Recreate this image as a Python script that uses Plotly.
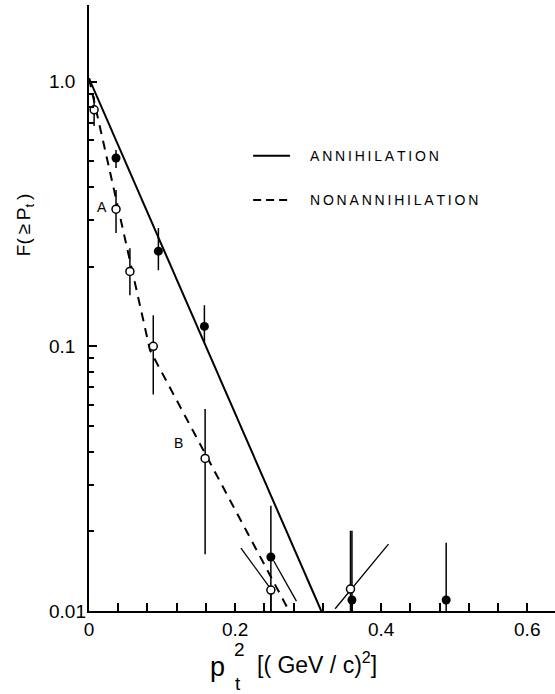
import math
import plotly.graph_objects as go

# ---- data ----
annih_x = [0.037, 0.095, 0.158, 0.249, 0.360, 0.489]
annih_y = [0.515, 0.229, 0.119, 0.016, 0.011, 0.011]
annih_hi = [0.552, 0.280, 0.143, 0.025, 0.0201, 0.0181]
annih_lo = [0.472, 0.194, 0.103, 0.010, 0.010, 0.010]

nonann_x = [0.007, 0.037, 0.056, 0.088, 0.159, 0.249, 0.358]
nonann_y = [0.783, 0.330, 0.192, 0.100, 0.0377, 0.0120, 0.0121]
nonann_hi = [0.88, 0.39, 0.235, 0.131, 0.058, 0.0120, 0.0201]
nonann_lo = [0.68, 0.268, 0.156, 0.0658, 0.0164, 0.010, 0.010]

fit_annih_x = [0.0, 0.318]
fit_annih_y = [1.03, 0.010]
fit_nonann_x = [0.0, 0.0836, 0.274]
fit_nonann_y = [1.03, 0.0966, 0.010]

aux1_x = [0.208, 0.247]
aux1_y = [0.0173, 0.0123]
aux2_x = [0.253, 0.284]
aux2_y = [0.01545, 0.0109]
aux3_x = [0.337, 0.410]
aux3_y = [0.0102, 0.0179]

x_tickvals = [0, 0.2, 0.4, 0.6]
x_ticktext = ["0", "0.2", "0.4", "0.6"]
x_minor = [0.04, 0.08, 0.12, 0.16, 0.24, 0.28, 0.32, 0.36, 0.44, 0.48, 0.52, 0.56]
y_major = [0.01, 0.1, 1.0]
y_labels = ["0.01", "0.1", "1.0"]
y_minor = [k * 0.01 for k in range(2, 10)] + [k * 0.1 for k in range(2, 10)]

legend_labels = ["ANNIHILATION", "NONANNIHILATION"]

FONT = "Liberation Sans"
fig = go.Figure()

# fit lines
fig.add_trace(go.Scatter(x=fit_annih_x, y=fit_annih_y, mode="lines",
                         line=dict(color="black", width=2), showlegend=False))
fig.add_trace(go.Scatter(x=fit_nonann_x, y=fit_nonann_y, mode="lines",
                         line=dict(color="black", width=2, dash="9px,7px"), showlegend=False))
for ax, ay in [(aux1_x, aux1_y), (aux2_x, aux2_y), (aux3_x, aux3_y)]:
    fig.add_trace(go.Scatter(x=ax, y=ay, mode="lines",
                             line=dict(color="black", width=1.3), showlegend=False))

# annihilation points
fig.add_trace(go.Scatter(
    x=annih_x, y=annih_y, mode="markers",
    marker=dict(size=9, color="black"),
    error_y=dict(type="data", symmetric=False,
                 array=[h - v for h, v in zip(annih_hi, annih_y)],
                 arrayminus=[v - l for l, v in zip(annih_lo, annih_y)],
                 width=0, thickness=1.5, color="black"),
    showlegend=False, cliponaxis=False))

# nonannihilation points
fig.add_trace(go.Scatter(
    x=nonann_x, y=nonann_y, mode="markers",
    marker=dict(size=8, color="white", line=dict(color="black", width=1.5)),
    error_y=dict(type="data", symmetric=False,
                 array=[h - v for h, v in zip(nonann_hi, nonann_y)],
                 arrayminus=[v - l for l, v in zip(nonann_lo, nonann_y)],
                 width=0, thickness=1.5, color="black"),
    showlegend=False, cliponaxis=False))

# legend samples
fig.add_trace(go.Scatter(x=[0.2247, 0.2753], y=[10 ** -0.280] * 2, mode="lines",
                         line=dict(color="black", width=2), showlegend=False))
fig.add_trace(go.Scatter(x=[0.2247, 0.2753], y=[10 ** -0.447] * 2, mode="lines",
                         line=dict(color="black", width=2, dash="8px,5px"), showlegend=False))

sp = "\u2009"
annotations = []
for lab, ly in zip(legend_labels, [-0.280, -0.447]):
    annotations.append(dict(x=0.300, y=ly, xref="x", yref="y", text=sp.join(lab),
                            showarrow=False, xanchor="left", yanchor="middle",
                            font=dict(family=FONT, size=14, color="black")))
annotations.append(dict(x=0.0178, y=-0.473, xref="x", yref="y", text="A", showarrow=False,
                        font=dict(family=FONT, size=14, color="black")))
annotations.append(dict(x=0.123, y=-1.364, xref="x", yref="y", text="B", showarrow=False,
                        font=dict(family=FONT, size=14, color="black")))
for v, t in zip(y_major, y_labels):
    annotations.append(dict(x=-0.0901, y=math.log10(v), xref="paper", yref="y", text=t,
                            showarrow=False, xanchor="left", yanchor="middle",
                            font=dict(family=FONT, size=19, color="black")))
# y title
annotations.append(dict(x=-0.137, y=0.637, xref="paper", yref="paper",
                        text="F(\u2009\u2265\u2009P<sub>t</sub>\u2009)", textangle=-90, showarrow=False,
                        xanchor="center", yanchor="middle",
                        font=dict(family=FONT, size=19, color="black")))
# x title pieces
annotations.append(dict(x=0.276, y=-0.0924, xref="paper", yref="paper", text="p",
                        showarrow=False, xanchor="center", yanchor="middle",
                        font=dict(family=FONT, size=27, color="black")))
annotations.append(dict(x=0.323, y=-0.064, xref="paper", yref="paper", text="2",
                        showarrow=False, xanchor="center", yanchor="middle",
                        font=dict(family=FONT, size=19, color="black")))
annotations.append(dict(x=0.320, y=-0.119, xref="paper", yref="paper", text="t",
                        showarrow=False, xanchor="center", yanchor="middle",
                        font=dict(family=FONT, size=19, color="black")))
annotations.append(dict(x=0.356, y=-0.086, xref="paper", yref="paper",
                        text="[( GeV / c)<sup>2</sup>]",
                        showarrow=False, xanchor="left", yanchor="middle",
                        font=dict(family=FONT, size=23, color="black")))

fig.update_layout(
    width=555, height=694,
    margin=dict(l=89, r=0, t=5, b=83),
    paper_bgcolor="white", plot_bgcolor="white",
    showlegend=False,
    annotations=annotations,
    xaxis=dict(range=[0, 0.638], tickvals=x_tickvals, ticktext=x_ticktext,
               ticks="inside", ticklen=8, tickwidth=1.5, tickcolor="black",
               showline=True, linecolor="black", linewidth=2,
               showgrid=False, zeroline=False,
               tickfont=dict(family=FONT, size=19, color="black"),
               minor=dict(tickvals=x_minor, ticks="inside", ticklen=8,
                          tickwidth=1.5, tickcolor="black", showgrid=False)),
    yaxis=dict(type="log", range=[-2, 0.29], tickvals=y_major,
               showticklabels=False,
               ticks="inside", ticklen=8, tickwidth=1.5, tickcolor="black",
               showline=True, linecolor="black", linewidth=2,
               showgrid=False, zeroline=False,
               minor=dict(tickvals=y_minor, ticks="inside", ticklen=5,
                          tickwidth=1.5, tickcolor="black", showgrid=False)),
)

fig.write_html("out.html")
